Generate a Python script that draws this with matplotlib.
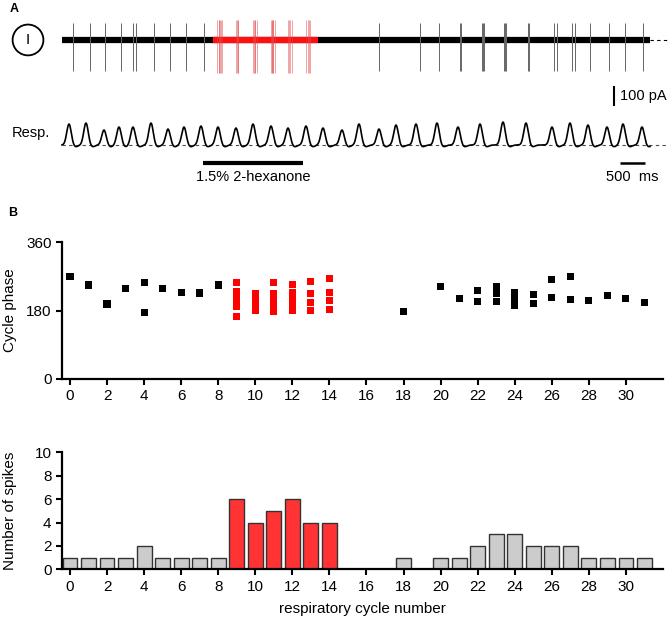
import numpy as np
import matplotlib.pyplot as plt

plt.rcParams['font.family'] = ['Liberation Sans', 'DejaVu Sans']
plt.rcParams['font.size'] = 11

# respiratory peaks (s) and amplitudes (arb.)
resp_peak_t = [0.14, 0.48, 0.84, 1.14, 1.42, 1.78, 2.12, 2.44, 2.78, 3.12, 3.48,
               3.82, 4.18, 4.52, 4.88, 5.22, 5.60, 5.94, 6.34, 6.68, 7.08, 7.50,
               7.92, 8.36, 8.82, 9.28, 9.80, 10.16, 10.52, 10.90, 11.22, 11.60]
resp_peak_h = [21, 22, 15, 18, 18, 22, 16, 18, 19, 18, 17, 21, 19, 17, 19, 17,
               15, 21, 16, 20, 21, 22, 18, 21, 23, 22, 18, 22, 20, 18, 21, 18]

# spike phase in each respiratory cycle
phase_cycle = [0, 1, 2, 3, 4, 4, 5, 6, 7, 8,
               9, 9, 9, 9, 9, 9,
               10, 10, 10, 10,
               11, 11, 11, 11, 11,
               12, 12, 12, 12, 12, 12,
               13, 13, 13, 13,
               14, 14, 14, 14,
               18, 20, 21, 22, 22, 23, 23, 23, 24, 24, 24,
               25, 25, 26, 26, 27, 27, 28, 29, 30, 31]
phase_deg = [270, 247, 197, 237, 253, 174, 237, 228, 226, 247,
             254, 231, 217, 204, 190, 164,
             224, 209, 195, 180,
             253, 224, 209, 195, 178,
             248, 226, 215, 204, 191, 180,
             256, 225, 201, 180,
             265, 228, 206, 183,
             177, 244, 211, 232, 203, 243, 226, 204, 226, 212, 192,
             221, 199, 261, 215, 269, 208, 207, 219, 212, 202]

# spike counts per cycle
cycles = list(range(32))
spike_counts = [1, 1, 1, 1, 2, 1, 1, 1, 1, 6, 4, 5, 6, 4, 4, 0,
                0, 0, 1, 0, 1, 1, 2, 3, 3, 2, 2, 2, 1, 1, 1, 1]
odor_cycles = [9, 10, 11, 12, 13, 14]

odor_on, odor_off = 2.82, 4.82
red_on, red_off = 3.02, 5.12
trace_end = 11.76

fig = plt.figure(figsize=(6.7, 6.22), dpi=100)
H = 622.0

# ---------- panel A: unit trace ----------
xl = (-62 * 0.02, (670 - 62) * 0.02)
ax_tr = fig.add_axes([0, 1 - 110 / H, 1, 110 / H])
ax_tr.set_xlim(xl)
ax_tr.set_ylim(-389, 222)
ax_tr.axis('off')

ax_tr.plot([0, trace_end], [0, 0], color='black', lw=4.5, solid_capstyle='butt')
ax_tr.plot([red_on, red_off], [0, 0], color='#ff1010', lw=4.5, solid_capstyle='butt')
ax_tr.plot([trace_end, 12.1], [0, 0], color='black', lw=0.8, ls=(0, (3, 3)))

pk = np.array(resp_peak_t)
period = np.gradient(pk)
cyc = np.array(phase_cycle)
ph = np.array(phase_deg)
spike_t = pk[cyc] + (ph - 175) / 360.0 * period[cyc]
is_odor = np.isin(cyc, odor_cycles)
ax_tr.vlines(spike_t[~is_odor], -175, 92, color='0.4', lw=0.7)
ax_tr.vlines(spike_t[is_odor], -185, 112, color='#e04848', lw=0.7, alpha=0.5)

ax_tr.text(28 * 0.02 - 1.24, 0, 'I', ha='center', va='center', fontsize=11,
           bbox=dict(boxstyle='circle,pad=0.55', fc='white', ec='black', lw=1.3))

# 100 pA scale bar
ax_tr.plot([11.04, 11.04], [-261, -361], color='black', lw=1.5)
ax_tr.text(11.16, -311, '100 pA', ha='left', va='center', fontsize=10.5)
fig.text(10 / 670, 1 - 9 / H, 'A', fontsize=9, fontweight='bold', va='center')

# ---------- panel A: respiration ----------
ax_rs = fig.add_axes([0, 1 - 200 / H, 1, 90 / H])
ax_rs.set_xlim(xl)
ax_rs.set_ylim(-55, 35)
ax_rs.axis('off')

t = np.linspace(0, trace_end, 4000)
resp = np.zeros_like(t)
for tp, h in zip(resp_peak_t, resp_peak_h):
    resp += h * np.exp(-0.5 * ((t - tp) / 0.045) ** 2)
    resp -= 1.8 * np.exp(-0.5 * ((t - tp - 0.13) / 0.05) ** 2)
ax_rs.plot([0, 12.1], [0, 0], color='0.3', lw=0.8, ls=(0, (3, 3)))
ax_rs.plot(t, resp, color='black', lw=1.2)
ax_rs.text(-1.0, 12, 'Resp.', ha='left', va='center', fontsize=10.5)

ax_rs.plot([odor_on, odor_off], [-18, -18], color='black', lw=3, solid_capstyle='butt')
ax_rs.text((odor_on + odor_off) / 2, -32, '1.5% 2-hexanone', ha='center', va='center',
           fontsize=10.5)
ax_rs.plot([11.16, 11.66], [-18, -18], color='black', lw=1.8, solid_capstyle='butt')
ax_rs.text(11.41, -32, '500  ms', ha='center', va='center', fontsize=10.5)


def style(ax):
    for s in ['top', 'right']:
        ax.spines[s].set_visible(False)
    for s in ['left', 'bottom']:
        ax.spines[s].set_linewidth(1.6)
    ax.tick_params(direction='out', length=4, width=1.5, labelsize=11)
    ax.set_xlim(-0.43, 32.0)
    ax.set_xticks(range(0, 31, 2))


# ---------- panel B: phase ----------
ax1 = fig.add_axes([62 / 670, 1 - 379 / H, 601 / 670, 137 / H])
style(ax1)
ax1.set_ylim(0, 360)
ax1.set_yticks([0, 180, 360])
col = np.where(is_odor, '#ff0000', '#000000')
ax1.scatter(cyc, ph, marker='s', s=26, c=col, linewidths=0, clip_on=False)
ax1.set_ylabel('Cycle phase')
ax1.yaxis.set_label_coords(-0.075, 0.5)
fig.text(8 / 670, 1 - 213 / H, 'B', fontsize=9, fontweight='bold', va='center')

# ---------- panel B: spike counts ----------
ax2 = fig.add_axes([62 / 670, 1 - 569.3 / H, 601 / 670, 117 / H])
style(ax2)
ax2.set_ylim(0, 10)
ax2.set_yticks(range(0, 11, 2))
bar_col = ['#ff3333' if c in odor_cycles else '#cccccc' for c in cycles]
ax2.bar(cycles, spike_counts, width=0.8, color=bar_col, edgecolor='#333333', lw=1)
ax2.set_ylabel('Number of spikes')
ax2.yaxis.set_label_coords(-0.075, 0.5)
ax2.set_xlabel('respiratory cycle number', labelpad=6)

fig.savefig('out.png', dpi=100)
